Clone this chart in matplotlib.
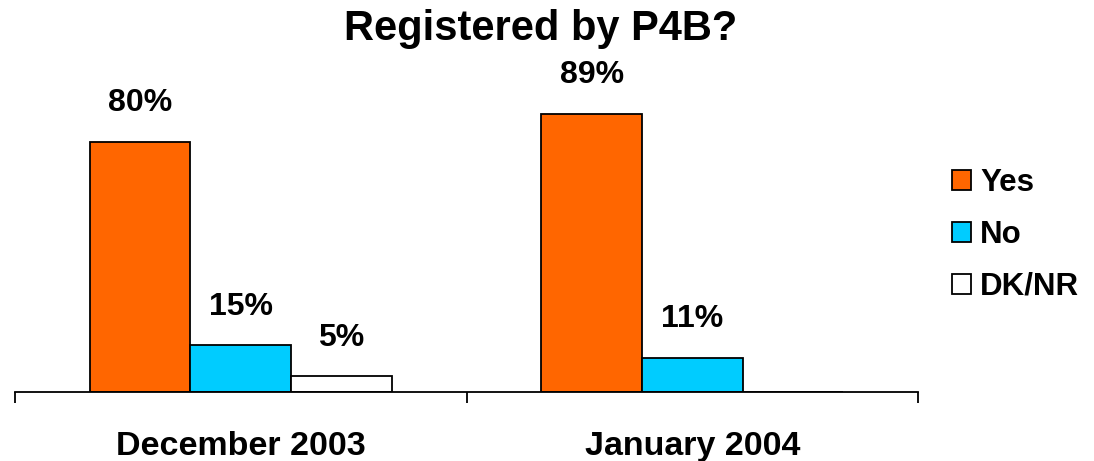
import matplotlib.pyplot as plt
import numpy as np

plt.rcParams["font.family"] = ["Liberation Sans", "DejaVu Sans"]
plt.rcParams["font.weight"] = "bold"

PERIODS = ["December 2003", "January 2004"]
SERIES = ["Yes", "No", "DK/NR"]
YES_VALUES = [80, 89]
NO_VALUES = [15, 11]
DKNR_VALUES = [5, 0]

COLORS = ["#FF6600", "#00CCFF", "#FFFFFF"]


def main():
    fig = plt.figure(figsize=(10.94, 4.61), dpi=100)
    ax = fig.add_axes([15 / 1094, 69 / 461, 903 / 1094, 312.5 / 461])

    x = np.arange(len(PERIODS))
    width = 0.223
    offsets = [-width, 0, width]
    handles = []

    for values, name, color, offset in zip(
        [YES_VALUES, NO_VALUES, DKNR_VALUES], SERIES, COLORS, offsets
    ):
        bars = ax.bar(
            x + offset,
            values,
            width,
            color=color,
            edgecolor="black",
            linewidth=1.3,
            label=name,
        )
        handles.append(bars)
        for bar, value in zip(bars, values):
            if value <= 0:
                continue
            ax.annotate(
                f"{value}%",
                (bar.get_x() + bar.get_width() / 2, value),
                xytext=(0, 17),
                textcoords="offset points",
                ha="center",
                va="bottom",
                fontsize=23,
                fontweight="bold",
            )

    ax.set_xlim(-0.5, 1.5)
    ax.set_ylim(0, 100)
    for side in ["left", "right", "top"]:
        ax.spines[side].set_visible(False)
    ax.spines["bottom"].set_linewidth(1.3)
    ax.set_yticks([])

    ax.set_xticks(x)
    ax.set_xticklabels(PERIODS, fontsize=24.5, fontweight="bold")
    ax.tick_params(axis="x", which="major", length=0, pad=28)
    ax.set_xticks([-0.5, 0.5, 1.5], minor=True)
    ax.tick_params(axis="x", which="minor", length=8, width=1.3, direction="out")

    fig.text(
        541 / 1094,
        1 - 40 / 461,
        "Registered by P4B?",
        ha="center",
        va="baseline",
        fontsize=30,
        fontweight="bold",
    )

    fig.legend(
        handles=handles,
        labels=SERIES,
        loc="center left",
        bbox_to_anchor=(924 / 1094, 1 - 235 / 461),
        frameon=False,
        fontsize=22.5,
        handlelength=0.6,
        handleheight=0.6,
        handletextpad=0.3,
        labelspacing=0.7,
    )

    plt.savefig("out.png", dpi=100)
    plt.close()


if __name__ == "__main__":
    main()
